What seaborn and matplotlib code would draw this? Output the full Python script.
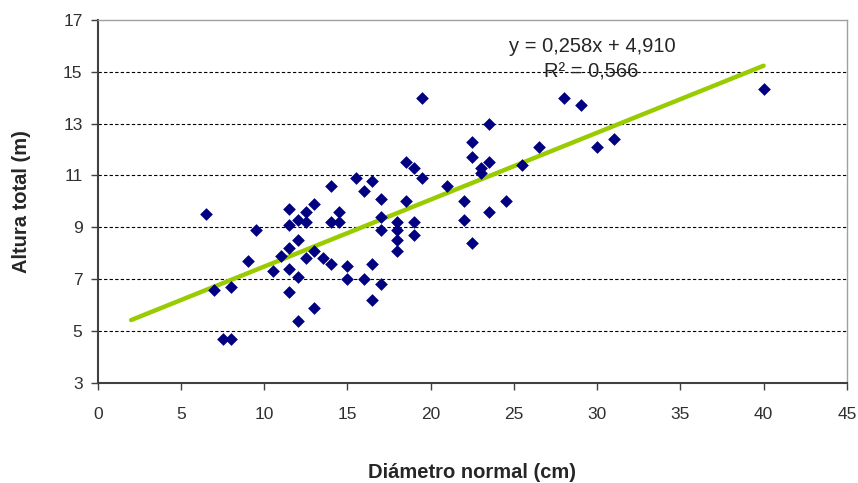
import matplotlib
matplotlib.use("Agg")
import matplotlib.pyplot as plt
import seaborn as sns
import numpy as np
import pandas as pd

diametro = [6.5, 7, 7.5, 8, 8, 9, 9.5, 10.5, 11, 11.5, 11.5, 11.5, 11.5, 11.5,
            12, 12, 12, 12, 12.5, 12.5, 12.5, 13, 13, 13, 13.5, 14, 14, 14,
            14.5, 14.5, 15, 15, 15.5, 16, 16, 16.5, 16.5, 16.5, 17, 17, 17, 17,
            18, 18, 18, 18, 18.5, 18.5, 19, 19, 19, 19.5, 19.5, 21, 22, 22,
            22.5, 22.5, 22.5, 23, 23, 23.5, 23.5, 23.5, 24.5, 25.5, 26.5, 28,
            29, 30, 31, 40]
altura = [9.5, 6.6, 4.7, 4.7, 6.7, 7.7, 8.9, 7.3, 7.9, 9.7, 9.1, 8.2, 7.4, 6.5,
          9.3, 8.5, 7.1, 5.4, 9.6, 9.2, 7.8, 9.9, 8.1, 5.9, 7.8, 10.6, 9.2, 7.6,
          9.6, 9.2, 7.5, 7.0, 10.9, 10.4, 7.0, 10.8, 7.6, 6.2, 10.1, 9.4, 8.9, 6.8,
          9.2, 8.9, 8.5, 8.1, 11.5, 10.0, 11.3, 9.2, 8.7, 10.9, 14.0, 10.6, 10.0, 9.3,
          12.3, 11.7, 8.4, 11.3, 11.1, 11.5, 13.0, 9.6, 10.0, 11.4, 12.1, 14.0,
          13.7, 12.1, 12.4, 14.35]

slope = 0.258
intercept = 4.910
trend_x = [2, 40]

x_ticks = [0, 5, 10, 15, 20, 25, 30, 35, 40, 45]
y_ticks = [3, 5, 7, 9, 11, 13, 15, 17]

sns.set_theme(style="white")
plt.rcParams['font.family'] = ['Liberation Sans', 'DejaVu Sans']

df = pd.DataFrame({"d": diametro, "h": altura})
trend = pd.DataFrame({"x": trend_x, "y": [slope * v + intercept for v in trend_x]})

W, H = 858, 483
fig = plt.figure(figsize=(W / 100, H / 100), dpi=100)
ax = fig.add_axes([0.114, 0.207, 0.873, 0.752])

for yt in y_ticks[1:-1]:
    ax.axhline(yt, color="black", linestyle=(0, (3, 2)), linewidth=0.8, zorder=1)

sns.lineplot(data=trend, x="x", y="y", ax=ax, color="#99cc00", linewidth=3.2, zorder=2)
sns.scatterplot(data=df, x="d", y="h", ax=ax, marker="D", s=42, color="#000080",
                edgecolor="#000080", linewidth=0, zorder=3)

ax.set_xlim(0, 45)
ax.set_ylim(3, 17)
ax.set_xticks(x_ticks)
ax.set_yticks(y_ticks)
ax.set_xticklabels([str(v) for v in x_ticks])
ax.set_yticklabels([str(v) for v in y_ticks])
ax.tick_params(axis="both", direction="out", length=5, width=1, color="#404040",
               labelsize=12.5, labelcolor="#303030", bottom=True, left=True)
ax.tick_params(axis="x", pad=12)
ax.tick_params(axis="y", pad=6)

for side in ["left", "bottom"]:
    ax.spines[side].set_color("#404040")
    ax.spines[side].set_linewidth(1.5)
for side in ["top", "right"]:
    ax.spines[side].set_color("#a0a0a0")
    ax.spines[side].set_linewidth(1.0)

ax.set_xlabel("Diámetro normal (cm)", fontsize=14.5, fontweight="bold", labelpad=30)
ax.set_ylabel("Altura total (m)", fontsize=14.5, fontweight="bold", labelpad=23)

fig.text(592 / W, 1 - 47 / H, "y = 0,258x + 4,910", fontsize=14.5, ha="center", va="center")
fig.text(591 / W, 1 - 72 / H, "R² = 0,566", fontsize=14.5, ha="center", va="center")

fig.savefig("out.png", dpi=100)
